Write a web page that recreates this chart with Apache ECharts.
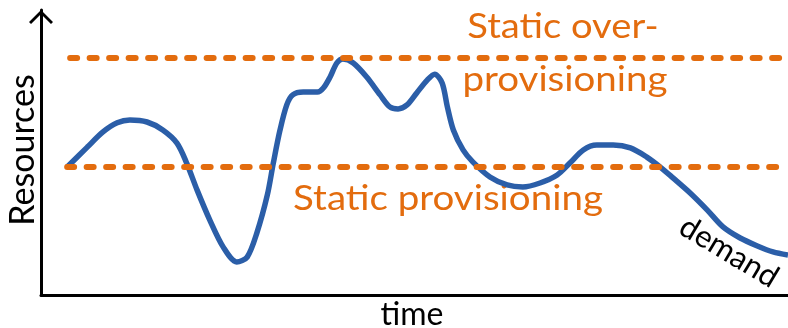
<!DOCTYPE html>
<html>
<head>
<meta charset="utf-8">
<script src="https://cdn.jsdelivr.net/npm/echarts@6/dist/echarts.min.js"></script>
<style>
html,body{margin:0;padding:0;background:#fff;}
#chart{width:788px;height:328px;}
</style>
</head>
<body>
<div id="chart"></div>
<script>
// Time positions (0-100) and demand level (0-100)
const timeValues = [3.5, 6.2, 8.3, 10.2, 11.9, 14.2, 16.3, 18.2, 19.5, 20.9, 22.6, 24.4, 26.2, 27.6, 28.9, 30.3, 31.1, 32.0, 32.9, 33.7, 35.1, 37.0, 37.8, 38.7, 39.6, 40.4, 41.8, 43.6, 45.4, 46.7, 47.8, 49.0, 50.3, 51.7, 52.7, 53.7, 54.4, 55.2, 56.5, 57.8, 60.1, 62.4, 64.5, 66.8, 69.1, 70.8, 72.6, 74.4, 76.6, 78.9, 81.1, 82.9, 84.6, 86.9, 89.2, 91.3, 93.6, 95.9, 98.0, 100];
const demandValues = [44.9, 51.9, 57.2, 60.4, 61.4, 60.7, 57.9, 53.3, 46.3, 36.8, 26.3, 16.8, 11.6, 13.3, 21.8, 35.1, 46.3, 57.9, 66.7, 70.2, 71.2, 71.2, 72.6, 76.5, 81.4, 82.8, 81.4, 76.5, 70.2, 66.0, 65.3, 66.7, 70.9, 75.4, 77.5, 74.4, 66.0, 57.9, 50.9, 46.7, 41.4, 38.6, 37.9, 39.3, 42.1, 46.3, 50.9, 52.6, 52.6, 51.6, 48.4, 44.9, 41.1, 35.8, 29.8, 23.9, 20.0, 17.2, 15.1, 14.0];
const staticStart = 3.5;
const staticLevel = 44.9;
const overStart = 3.9;
const overLevel = 83.2;
const timeEnd = 100;

const BLUE = '#2B5EA8';
const ORANGE = '#E36C0E';
const FONT = 'Lato';

const chart = echarts.init(document.getElementById('chart'));
chart.setOption({
  animation: false,
  grid: {left: 41, right: 0, top: 10, bottom: 33},
  xAxis: {
    type: 'value', min: 0, max: 100,
    axisLine: {show: true, lineStyle: {color: '#000', width: 3}},
    axisTick: {show: false}, axisLabel: {show: false}, splitLine: {show: false}
  },
  yAxis: {
    type: 'value', min: 0, max: 100,
    axisLine: {
      show: true, lineStyle: {color: '#000', width: 3},
      symbol: ['none', 'path://M12,0 L24,12 L22,14 L12,4 L2,14 L0,12 Z'],
      symbolSize: [24, 14],
      symbolOffset: [0, -7]
    },
    axisTick: {show: false}, axisLabel: {show: false}, splitLine: {show: false}
  },
  series: [
    {
      name: 'demand', type: 'line', smooth: 0.3, showSymbol: false,
      data: timeValues.map((t, i) => [t, demandValues[i]]),
      lineStyle: {color: BLUE, width: 5.5}, z: 2
    },
    {
      name: 'Static provisioning', type: 'line', showSymbol: false,
      data: [[staticStart, staticLevel], [timeEnd, staticLevel]],
      lineStyle: {color: ORANGE, width: 6, type: [7, 12.5], cap: 'round'}, z: 3
    },
    {
      name: 'Static over-provisioning', type: 'line', showSymbol: false,
      data: [[overStart, overLevel], [timeEnd, overLevel]],
      lineStyle: {color: ORANGE, width: 6, type: [7, 12.5], cap: 'round'}, z: 3
    }
  ],
  graphic: [
    {type: 'text', x: 563, y: 27, scaleX: 1.09, style: {text: 'Static over-', fill: ORANGE, font: '35px ' + FONT, textAlign: 'center', textVerticalAlign: 'middle'}},
    {type: 'text', x: 565, y: 80, scaleX: 1.1, style: {text: 'provisioning', fill: ORANGE, font: '35px ' + FONT, textAlign: 'center', textVerticalAlign: 'middle'}},
    {type: 'text', x: 448, y: 199, scaleX: 1.1, style: {text: 'Static provisioning', fill: ORANGE, font: '35px ' + FONT, textAlign: 'center', textVerticalAlign: 'middle'}},
    {type: 'text', x: 412, y: 315, style: {text: 'time', fill: '#000', font: '32px ' + FONT, textAlign: 'center', textVerticalAlign: 'middle'}},
    {type: 'text', x: 23, y: 150, rotation: Math.PI / 2, style: {text: 'Resources', fill: '#000', font: '34px ' + FONT, textAlign: 'center', textVerticalAlign: 'middle'}},
    {type: 'text', x: 729, y: 252, rotation: -0.54, style: {text: 'demand', fill: '#000', font: '31px ' + FONT, textAlign: 'center', textVerticalAlign: 'middle'}}
  ]
});
</script>
</body>
</html>
